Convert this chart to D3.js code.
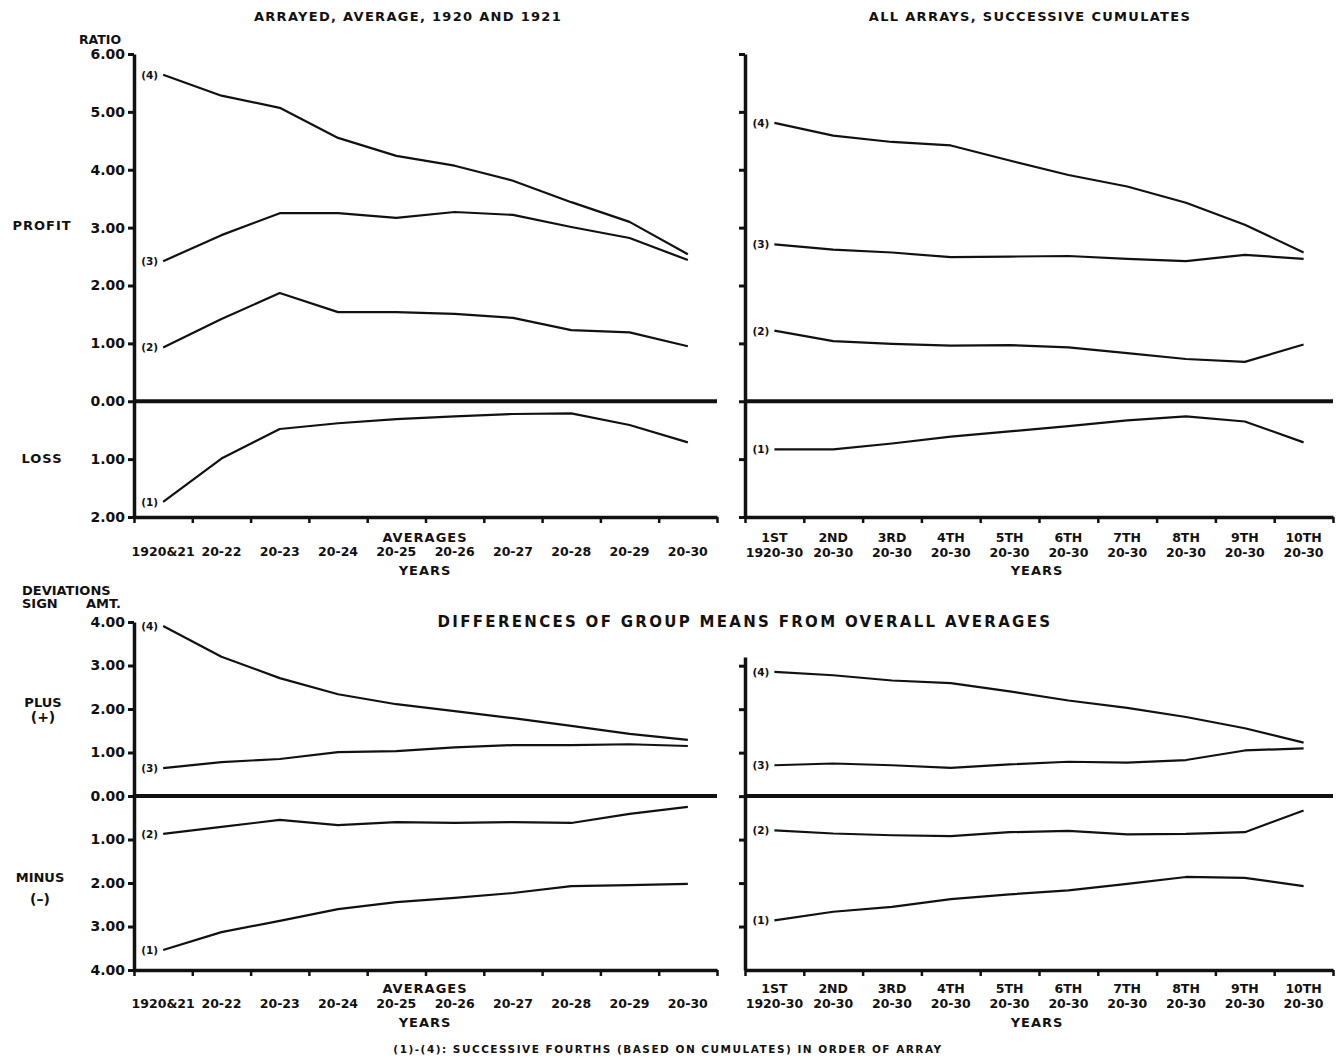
<!DOCTYPE html>
<html>
  <head>
    <meta charset="utf-8">
    <title>chart</title>
    <style media="screen">
    body{margin:0;background:#fff}
    svg{display:block}
    text{font-family:"DejaVu Sans",sans-serif;font-weight:bold;fill:#111}
    </style>
  </head>
  <body>
    <svg width="1340" height="1059"></svg>
    <script src="https://d3js.org/d3.v7.min.js"></script>
    <script>

    // categories
    var yearCats = ["1920&21","20-22","20-23","20-24","20-25","20-26","20-27","20-28","20-29","20-30"];
    var orderCats = ["1ST","2ND","3RD","4TH","5TH","6TH","7TH","8TH","9TH","10TH"];
    var orderYears = ["1920-30","20-30","20-30","20-30","20-30","20-30","20-30","20-30","20-30","20-30"];
    var seriesNames = ["(1)","(2)","(3)","(4)"];

    // ratio, arrayed average (loss negative)
    var tl1 = [-1.74,-0.99,-0.48,-0.38,-0.31,-0.26,-0.22,-0.21,-0.41,-0.71];
    var tl2 = [0.93,1.42,1.87,1.54,1.54,1.51,1.44,1.23,1.19,0.95];
    var tl3 = [2.42,2.87,3.25,3.25,3.17,3.27,3.22,3.01,2.82,2.44];
    var tl4 = [5.64,5.28,5.07,4.55,4.24,4.07,3.81,3.44,3.10,2.54];

    // ratio, successive cumulates
    var tr1 = [-0.83,-0.83,-0.73,-0.61,-0.52,-0.43,-0.33,-0.26,-0.35,-0.71];
    var tr2 = [1.22,1.04,0.99,0.96,0.97,0.93,0.83,0.73,0.68,0.98];
    var tr3 = [2.71,2.62,2.57,2.49,2.50,2.51,2.46,2.42,2.53,2.46];
    var tr4 = [4.81,4.59,4.48,4.42,4.16,3.91,3.71,3.43,3.05,2.57];

    // deviations, arrayed average
    var bl1 = [-3.54,-3.13,-2.87,-2.60,-2.44,-2.34,-2.23,-2.07,-2.05,-2.02];
    var bl2 = [-0.87,-0.71,-0.55,-0.67,-0.60,-0.62,-0.60,-0.62,-0.41,-0.25];
    var bl3 = [0.64,0.78,0.85,1.01,1.03,1.12,1.17,1.17,1.19,1.15];
    var bl4 = [3.91,3.20,2.71,2.34,2.11,1.95,1.79,1.61,1.43,1.29];

    // deviations, successive cumulates
    var br1 = [-2.86,-2.66,-2.55,-2.37,-2.26,-2.17,-2.02,-1.86,-1.88,-2.07];
    var br2 = [-0.79,-0.86,-0.90,-0.92,-0.83,-0.80,-0.88,-0.87,-0.83,-0.33];
    var br3 = [0.71,0.75,0.71,0.65,0.73,0.79,0.77,0.83,1.05,1.10];
    var br4 = [2.86,2.78,2.66,2.60,2.41,2.20,2.03,1.82,1.56,1.23];

    var ratioTicks = [-2,-1,0,1,2,3,4,5,6];
    var devTicks = [-4,-3,-2,-1,0,1,2,3,4];
    var devTicksRight = [-3,-2,-1,0,1,2,3];

    var svg = d3.select("svg");
    svg.append("rect").attr("width",1340).attr("height",1059).attr("fill","#fff");

    var fmt = function(d) { return Math.abs(d).toFixed(2); };

    function panel(p) {
      var g = svg.append("g");
      var y = d3.scaleLinear().domain(p.yDomain).range([p.y1, p.y0]);
      var xb = d3.scaleBand().domain(d3.range(10)).range([p.x0, p.x1]);
      var xt = d3.scaleLinear().domain([0,10]).range([p.x0, p.x1]);

      // y axis
      var ya = g.append("g").attr("transform","translate(" + p.x0 + ",0)")
        .call(d3.axisLeft(y).tickValues(p.yTicks).tickSize(6).tickSizeOuter(0)
          .tickFormat(p.labels ? fmt : ""));
      ya.select(".domain").attr("stroke","#111").attr("stroke-width",3.5);
      ya.selectAll(".tick line").attr("stroke","#111").attr("stroke-width",3);
      ya.selectAll(".tick text").attr("x",-9).attr("font-size",14).attr("font-family",null);

      // x axis with ticks at band edges
      var xa = g.append("g").attr("transform","translate(0," + p.y1 + ")")
        .call(d3.axisBottom(xt).tickValues(d3.range(11)).tickSize(6).tickSizeOuter(0).tickFormat(""));
      xa.select(".domain").attr("stroke","#111").attr("stroke-width",3.5);
      xa.selectAll(".tick line").attr("stroke","#111").attr("stroke-width",2.5);

      // zero line
      g.append("line").attr("x1",p.x0).attr("x2",p.x1)
        .attr("y1",y(0)).attr("y2",y(0))
        .attr("stroke","#111").attr("stroke-width",4);

      // category labels
      p.rows.forEach(function(row) {
        g.selectAll(null).data(row.cats).enter().append("text")
          .attr("x", function(d,i) { return xb(i) + xb.bandwidth()/2; })
          .attr("y", row.y)
          .attr("text-anchor","middle")
          .attr("font-size",12.5)
          .text(function(d) { return d; });
      });

      var line = d3.line()
        .x(function(d,i) { return xb(i) + xb.bandwidth()/2; })
        .y(function(d) { return y(d); });

      p.series.forEach(function(s, k) {
        g.append("path").datum(s).attr("d", line)
          .attr("fill","none").attr("stroke","#111").attr("stroke-width",2.2)
          .attr("stroke-linejoin","round");
        g.append("text")
          .attr("x", xb(0) + xb.bandwidth()/2 - 5)
          .attr("y", y(s[0]) + 4)
          .attr("text-anchor","end")
          .attr("font-size",10.5)
          .text(seriesNames[k]);
      });
      return y;
    }

    // top panels
    panel({x0:134, x1:717, y0:54, y1:517, yDomain:[-2,6], yTicks:ratioTicks, labels:true,
      rows:[{cats:yearCats, y:556}], series:[tl1,tl2,tl3,tl4]});
    panel({x0:745, x1:1333, y0:54, y1:517, yDomain:[-2,6], yTicks:ratioTicks, labels:false,
      rows:[{cats:orderCats, y:542},{cats:orderYears, y:557}], series:[tr1,tr2,tr3,tr4]});

    // bottom panels
    panel({x0:134, x1:717, y0:622, y1:970, yDomain:[-4,4], yTicks:devTicks, labels:true,
      rows:[{cats:yearCats, y:1008}], series:[bl1,bl2,bl3,bl4]});
    panel({x0:745, x1:1333, y0:657, y1:970, yDomain:[-4,3.2], yTicks:devTicksRight, labels:false,
      rows:[{cats:orderCats, y:993},{cats:orderYears, y:1008}], series:[br1,br2,br3,br4]});

    // titles and labels
    function label(x, y, t, size, anchor, spacing) {
      svg.append("text").attr("x",x).attr("y",y)
        .attr("text-anchor",anchor || "middle")
        .attr("font-size",size)
        .attr("letter-spacing",spacing || 0)
        .text(t);
    }
    label(408, 21, "ARRAYED, AVERAGE, 1920 AND 1921", 13, "middle", 1.3);
    label(1030, 21, "ALL ARRAYS, SUCCESSIVE CUMULATES", 13, "middle", 1.3);
    label(100, 44, "RATIO", 12.5, "middle");
    label(42, 230, "PROFIT", 13, "middle", 1);
    label(42, 463, "LOSS", 13, "middle", 1);
    label(425, 542, "AVERAGES", 13, "middle", 1);
    label(425, 575, "YEARS", 13, "middle", 1);
    label(1037, 575, "YEARS", 13, "middle", 1);

    label(22, 595, "DEVIATIONS", 13, "start");
    label(22, 608, "SIGN", 13, "start");
    label(86, 608, "AMT.", 13, "start");
    label(745, 627, "DIFFERENCES OF GROUP MEANS FROM OVERALL AVERAGES", 15, "middle", 2.3);
    label(43, 707, "PLUS", 13, "middle");
    label(43, 722, "(+)", 14, "middle");
    label(40, 882, "MINUS", 13, "middle");
    label(40, 904, "(\u2013)", 14, "middle");
    label(425, 993, "AVERAGES", 13, "middle", 1);
    label(425, 1027, "YEARS", 13, "middle", 1);
    label(1037, 1027, "YEARS", 13, "middle", 1);
    label(668, 1053, "(1)-(4): SUCCESSIVE FOURTHS (BASED ON CUMULATES) IN ORDER OF ARRAY", 10.5, "middle", 1.5);

    </script>
  </body>
</html>
